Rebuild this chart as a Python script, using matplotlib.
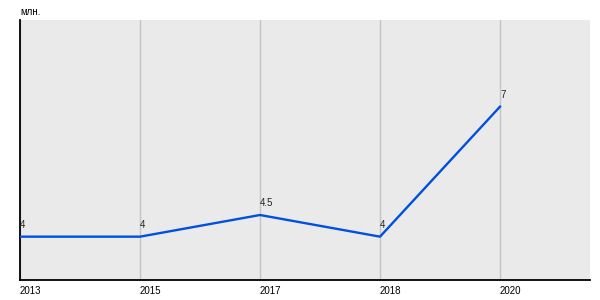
import numpy as np
import matplotlib
matplotlib.use('Agg')
import matplotlib.pyplot as plt

plt.rcParams['font.family'] = ['Liberation Sans', 'DejaVu Sans']

# data
years = ['2013', '2015', '2017', '2018', '2020']
values = [4, 4, 4.5, 4, 7]
value_labels = ['4', '4', '4.5', '4', '7']
unit = 'млн.'

fig = plt.figure(figsize=(6, 3), dpi=100)
ax = fig.add_axes([20/600, 20/300, 570/600, 260/300])
ax.set_facecolor('#eaeaea')

x = np.arange(len(years))
ax.plot(x, values, color='#0050e0', lw=1.7, zorder=3)
for xi, v, lab in zip(x, values, value_labels):
    ax.annotate(lab, (xi, v), xytext=(0, 5), textcoords='offset points',
                ha='left', va='bottom', fontsize=7, color='#222222')

ax.set_xlim(0, 4.75)
ax.set_ylim(3, 9)
ax.set_xticks(x)
ax.set_xticklabels(years, ha='left', fontsize=7)
ax.set_yticks([])
ax.tick_params(axis='x', length=0, pad=4)
ax.grid(axis='x', color='#c4c4c4', lw=1)
for s in ['top', 'right']:
    ax.spines[s].set_visible(False)
for s in ['left', 'bottom']:
    ax.spines[s].set_linewidth(1.3)
    ax.spines[s].set_color('black')

fig.text(20/600, 1 - 12/300, unit, fontsize=7, ha='left', va='center')

fig.savefig('out.png', dpi=100)
